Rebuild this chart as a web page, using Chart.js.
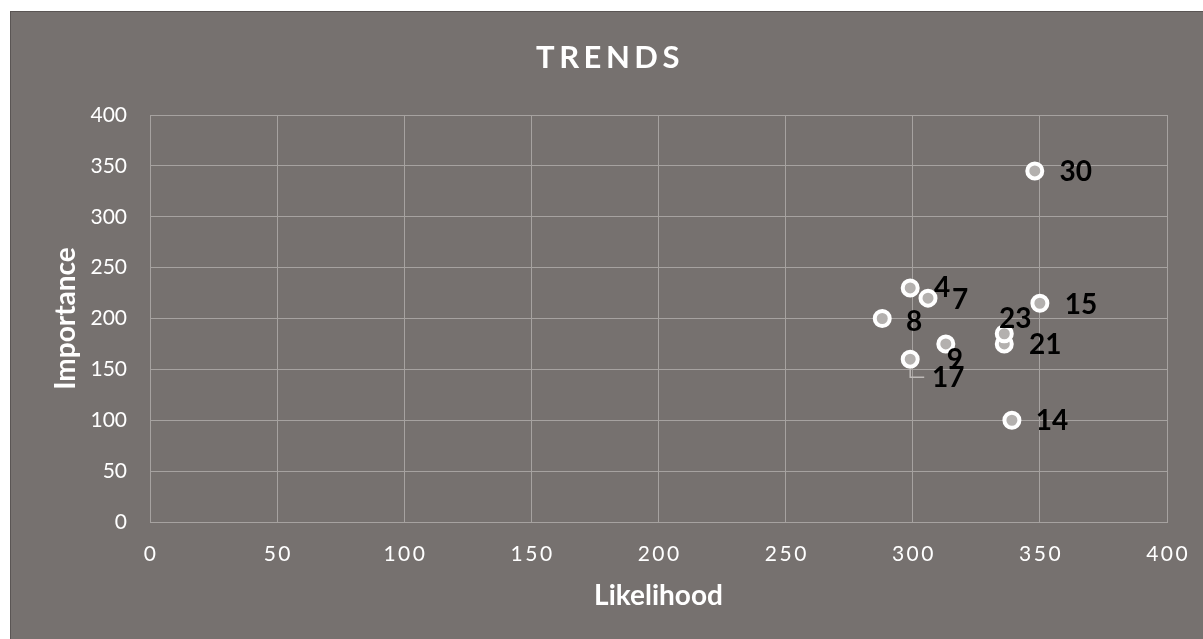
<!DOCTYPE html>
<html><head><meta charset="utf-8">
<script src="https://cdn.jsdelivr.net/npm/chart.js@4.4.0/dist/chart.umd.min.js"></script>
<style>
html,body{margin:0;padding:0;background:#fff;width:1203px;height:639px;overflow:hidden}
#box{position:absolute;left:10px;top:11px;width:1193px;height:628px;border-left:1px solid #5a5554;border-top:1px solid #5a5554;background:#76716f}
#wrap{position:absolute;left:0;top:0;width:1192px;height:627px}
</style></head><body>
<div id="box"><div id="wrap"><canvas id="c"></canvas></div></div>
<script>
const chartTitle = 'TRENDS';
const xTitle = 'Likelihood';
const yTitle = 'Importance';
const pointLabels = ['4','7','8','9','14','15','17','21','23','30'];
const likelihood  = [299,306,288,313,339,350,299,336,336,348];
const importance  = [230,220,200,175,100,215,160,175,185,345];
const xTicks = [0,50,100,150,200,250,300,350,400];
const yTicks = [0,50,100,150,200,250,300,350,400];

// label placement relative to each point (pixels), kept apart from data
const labelOffsets = {
  '4':[32,0], '7':[32,2], '8':[32,3], '9':[9,16], '14':[40,1], '15':[41,2],
  '17':[38,19,true], '21':[41,1], '23':[11,-15], '30':[41,1]
};

const GRID = '#a6a2a0';

const decor = {
  id:'decor',
  afterDatasetsDraw(chart){
    const ctx = chart.ctx, xs = chart.scales.x;
    ctx.save();
    ctx.fillStyle = '#ffffff';
    ctx.textAlign = 'center';
    ctx.textBaseline = 'middle';
    ctx.font = '21px Lato';
    ctx.letterSpacing = '2.5px';
    xs.ticks.forEach(t => {
      ctx.fillText(String(t.value), xs.getPixelForValue(t.value) + 1.2, xs.top + 32);
    });
    ctx.font = 'bold 31px Lato';
    ctx.letterSpacing = '4.5px';
    ctx.fillText(chartTitle, chart.width / 2 + 3, 46);
    ctx.letterSpacing = '0px';
    const meta = chart.getDatasetMeta(0);
    ctx.font = 'bold 28px Lato';
    meta.data.forEach((pt, i) => {
      const o = labelOffsets[pointLabels[i]];
      if (!o) return;
      if (o[2]) {
        ctx.strokeStyle = '#bdb9b7';
        ctx.lineWidth = 1.5;
        ctx.beginPath();
        ctx.moveTo(pt.x, pt.y + 10);
        ctx.lineTo(pt.x, pt.y + 18);
        ctx.lineTo(pt.x + 14, pt.y + 18);
        ctx.stroke();
      }
      ctx.fillStyle = '#000000';
      ctx.fillText(pointLabels[i], pt.x + o[0], pt.y + o[1]);
    });
    ctx.restore();
  }
};

new Chart(document.getElementById('c'), {
  type: 'scatter',
  data: {
    datasets: [{
      label: chartTitle,
      data: likelihood.map((x, i) => ({x: x, y: importance[i]})),
      backgroundColor: '#b3b0ae',
      borderColor: '#ffffff',
      borderWidth: 4,
      pointRadius: 7.5,
      pointHoverRadius: 7.5
    }]
  },
  options: {
    animation: false,
    responsive: true,
    maintainAspectRatio: false,
    layout: { padding: { top: 103, right: 36, left: 0, bottom: 0 } },
    plugins: { legend: { display: false }, tooltip: { enabled: false }, title: { display: false } },
    scales: {
      x: {
        type: 'linear',
        min: xTicks[0], max: xTicks[xTicks.length - 1],
        afterBuildTicks: s => { s.ticks = xTicks.map(v => ({value: v})); },
        afterFit: s => { s.height = 117; },
        grid: { color: GRID, drawTicks: false, lineWidth: 1 },
        border: { color: GRID },
        ticks: { display: false },
        title: { display: true, text: xTitle, color: '#ffffff',
                 font: { family: 'Lato', size: 28, weight: 'bold', lineHeight: 1.2 },
                 padding: { top: 0, bottom: 26 } }
      },
      y: {
        type: 'linear',
        min: yTicks[0], max: yTicks[yTicks.length - 1],
        afterBuildTicks: s => { s.ticks = yTicks.map(v => ({value: v})); },
        afterFit: s => { s.width = 139; },
        grid: { color: GRID, drawTicks: false, lineWidth: 1 },
        border: { color: GRID },
        ticks: { color: '#ffffff', font: { family: 'Lato', size: 21 }, padding: 23 },
        title: { display: true, text: yTitle, color: '#ffffff',
                 font: { family: 'Lato', size: 28, weight: 'bold', lineHeight: 1.2 },
                 padding: { top: 38, bottom: 0 } }
      }
    }
  },
  plugins: [decor]
});
</script>
</body></html>
